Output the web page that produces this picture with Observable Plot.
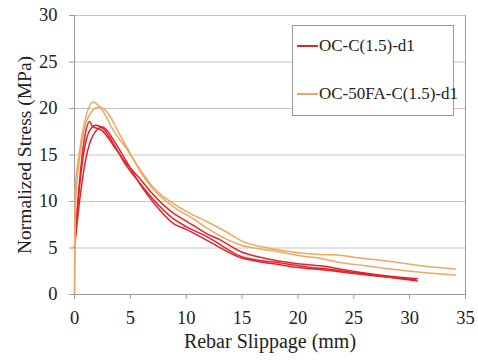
<!DOCTYPE html>
<html>
<head>
<meta charset="utf-8">
<script src="https://cdn.jsdelivr.net/npm/d3@7"></script>
<script src="https://cdn.jsdelivr.net/npm/@observablehq/plot@0.6"></script>
<style>
  html, body { margin: 0; padding: 0; background: #fff; }
  #wrap { position: relative; width: 478px; height: 360px; font-family: "Liberation Serif", "Times New Roman", Tinos, "DejaVu Serif", serif; }
  #chart svg, #chart svg text { font-family: "Liberation Serif", "Times New Roman", Tinos, "DejaVu Serif", serif !important; }
  #legend { position: absolute; left: 292px; top: 25px; width: 162px; height: 91px; border: 1px solid #9a9a9a; background: #fff; box-sizing: border-box; font-size: 17px; color: #222; }
  #legend .item { position: absolute; left: 4px; display: flex; align-items: center; white-space: nowrap; }
  #legend .sw { display: inline-block; width: 21px; height: 2px; margin-right: 1px; }
</style>
</head>
<body>
<div id="wrap"><div id="chart"></div><div id="legend"></div></div>
<script>
const seriesNames = ["OC-C(1.5)-d1", "OC-50FA-C(1.5)-d1"];
const seriesColors = ["#e2222c", "#f1a65e"];
const xTicks = [0, 5, 10, 15, 20, 25, 30, 35];
const yTicks = [0, 5, 10, 15, 20, 25, 30];

// Specimen curves: [slip (mm), stress (MPa)]
const red1 = [[0,5],[0.3,10],[0.6,14],[1.0,17.5],[1.35,18.6],[1.6,18.1],[2.5,17.6],[3.5,16.0],[4.5,14.3],[5.9,12.4],[7,10.8],[8.9,8.7],[10,7.9],[11.9,6.5],[13,5.9],[14.9,4.6],[16.65,4.0],[17.8,3.7],[20,3.3],[22.6,3.0],[23.5,2.8],[26,2.3],[28,2.0],[30.7,1.7]];
const red2 = [[0,5],[0.4,11],[0.8,15],[1.3,17.5],[1.9,18.2],[2.6,17.8],[3.5,16.2],[4.5,14.1],[5.9,11.9],[7,10.3],[8.9,8.1],[10,7.3],[11.9,6.2],[14.9,4.1],[16.65,3.65],[17.8,3.5],[20,3.1],[23.5,2.6],[26,2.2],[30.7,1.45]];
const red3 = [[0,5],[0.5,10.5],[1,14.5],[1.7,17.2],[2.5,18.0],[3.5,16.6],[4.5,14.6],[5.9,11.8],[7,10],[8.9,7.6],[10,7.0],[11.9,5.8],[14.9,3.95],[16.65,3.5],[17.8,3.3],[20,2.9],[22.6,2.6],[24,2.4],[27,2.0],[30.5,1.6]];
const orange1 = [[0,0],[0.05,11],[0.4,15],[0.9,18.5],[1.67,20.7],[2.5,19.8],[3.5,17.6],[4.7,15.6],[5.9,13.4],[7,11.6],[8.9,9.75],[10.7,8.5],[11.9,7.8],[13.5,6.8],[14.9,5.8],[16.65,5.15],[17.8,4.9],[20,4.5],[22,4.3],[23.5,4.25],[25,4.0],[28,3.6],[31,3.1],[34.1,2.75]];
const orange2 = [[0,0],[0.1,10],[0.5,15],[1.2,19],[2.2,20.2],[3,19.5],[4,17.3],[4.7,15.8],[5.9,13.2],[7,11.4],[8.9,9.4],[10.7,8.1],[11.9,7.1],[14.9,5.3],[16.65,4.9],[17.8,4.7],[20,4.2],[22,3.9],[23.5,3.5],[26,3.1],[30,2.5],[34.1,2.1]];

const curves = [
  {series: 0, pts: red1}, {series: 0, pts: red2}, {series: 0, pts: red3},
  {series: 1, pts: orange1}, {series: 1, pts: orange2}
];
const rows = [];
curves.forEach((c, i) => c.pts.forEach(([x, y]) => rows.push({id: i, s: seriesNames[c.series], x, y})));

const chart = Plot.plot({
  width: 478,
  height: 360,
  marginLeft: 74,
  marginRight: 13,
  marginTop: 15,
  marginBottom: 66,
  style: {background: "transparent", overflow: "visible"},
  x: {domain: [0, 35]},
  y: {domain: [0, 30]},
  color: {domain: seriesNames, range: seriesColors},
  marks: [
    Plot.ruleY(yTicks.filter(d => d > 0), {stroke: "#c4c4c4", strokeWidth: 1}),
    Plot.ruleX([35], {stroke: "#9a9a9a"}),
    Plot.ruleX([0], {stroke: "#9a9a9a"}),
    Plot.ruleY([0], {stroke: "#9a9a9a"}),
    Plot.axisX({ticks: xTicks, tickSize: 5, tickPadding: 11, fontSize: 18.5, stroke: "#9a9a9a", color: "#222",
      label: "Rebar Slippage (mm)", labelAnchor: "center", labelArrow: "none", labelOffset: 53}),
    Plot.axisY({ticks: yTicks, tickSize: 5, tickPadding: 12, fontSize: 18.5, stroke: "#9a9a9a", color: "#222",
      label: "Normalized Stress (MPa)", labelAnchor: "center", labelArrow: "none", labelOffset: 57}),
    Plot.line(rows, {x: "x", y: "y", z: "id", stroke: "s", strokeWidth: 1.5, curve: "monotone-x"})
  ]
});
chart.querySelectorAll("g[aria-label='x-axis label'] text").forEach(t => t.setAttribute("font-size", "20"));
chart.querySelectorAll("g[aria-label='y-axis label'] text").forEach(t => t.setAttribute("font-size", "19.5"));
document.getElementById("chart").appendChild(chart);

const legend = document.getElementById("legend");
seriesNames.forEach((name, i) => {
  const item = document.createElement("div");
  item.className = "item";
  item.style.top = (i === 0 ? 10 : 58) + "px";
  const sw = document.createElement("span");
  sw.className = "sw";
  sw.style.background = seriesColors[i];
  const label = document.createElement("span");
  label.textContent = name;
  item.appendChild(sw);
  item.appendChild(label);
  legend.appendChild(item);
});
</script>
</body>
</html>
